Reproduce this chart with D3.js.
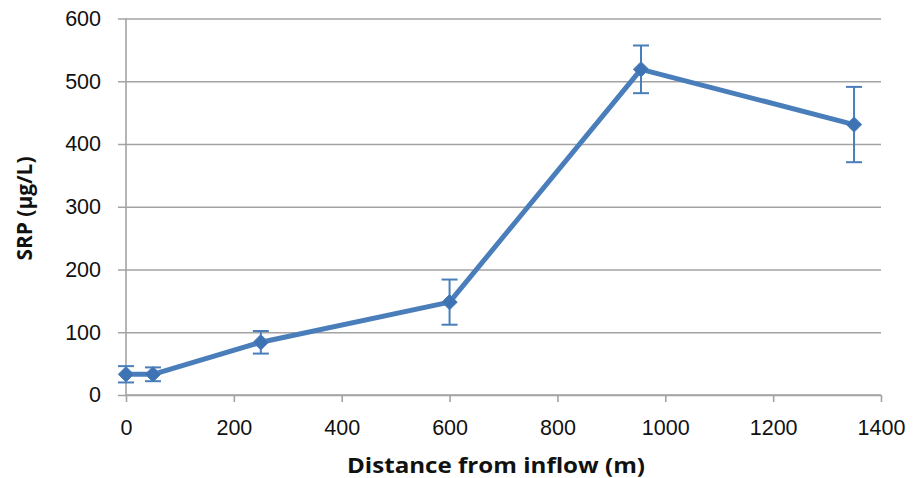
<!DOCTYPE html>
<html>
<head>
<meta charset="utf-8">
<script src="https://cdn.jsdelivr.net/npm/d3@7"></script>
<style>
  html, body { margin: 0; padding: 0; background: #fff; }
  svg { display: block; font-family: "Open Sans", Lato, sans-serif; }
</style>
</head>
<body>
<svg id="chart" width="914" height="478"></svg>
<script>
// SRP along the flow path: distance (m), mean concentration (µg/L) and error
const distances = [0, 50, 250, 600, 955, 1350];
const srpMean   = [33, 33, 84, 148, 519, 431];
const srpError  = [13, 11, 18, 36, 38, 60];
const xTicks = [0, 200, 400, 600, 800, 1000, 1200, 1400];
const yTicks = [0, 100, 200, 300, 400, 500, 600];

const data = distances.map((d, i) => ({ x: d, y: srpMean[i], e: srpError[i] }));

const svg = d3.select("#chart");
const margin = { left: 126, right: 33, top: 18.5, bottom: 83 };
const W = 914, H = 478;

const x = d3.scaleLinear().domain([0, 1400]).range([margin.left, W - margin.right]);
const y = d3.scaleLinear().domain([0, 600]).range([H - margin.bottom, margin.top]);

const gridColor = "#a3a3a3";
const blue = "#4a7ebb";
const fmt = d3.format("d");

// horizontal gridlines with left tick marks
const yAxis = d3.axisLeft(y).tickValues(yTicks).tickFormat(fmt)
  .tickSize(-(x.range()[1] - x.range()[0]));
const gy = svg.append("g").attr("transform", `translate(${margin.left},0)`).call(yAxis);
gy.select(".domain").remove();
gy.selectAll(".tick line").attr("stroke", gridColor).attr("stroke-width", 1.6).attr("x1", -8);
gy.selectAll(".tick text").attr("font-size", 21.5).attr("fill", "#111").attr("x", -25);

// vertical axis line
svg.append("line")
  .attr("x1", margin.left).attr("x2", margin.left)
  .attr("y1", y(600)).attr("y2", y(0))
  .attr("stroke", gridColor).attr("stroke-width", 1.6);

// x axis
const xAxis = d3.axisBottom(x).tickValues(xTicks).tickFormat(fmt).tickSize(7).tickPadding(18);
const gx = svg.append("g").attr("transform", `translate(0,${y(0)})`).call(xAxis);
gx.select(".domain").attr("stroke", gridColor).attr("stroke-width", 1.6).attr("d", `M${x(0)},0H${x(1400)}`);
gx.selectAll(".tick line").attr("stroke", gridColor).attr("stroke-width", 1.6);
gx.selectAll(".tick text").attr("font-size", 21.5).attr("fill", "#111");

// error bars
const eb = svg.append("g").attr("stroke", blue).attr("stroke-width", 2).attr("fill", "none");
data.forEach(d => {
  const cx = x(d.x), t = y(d.y + d.e), b = y(d.y - d.e);
  eb.append("line").attr("x1", cx).attr("x2", cx).attr("y1", t).attr("y2", b);
  eb.append("line").attr("x1", cx - 8).attr("x2", cx + 8).attr("y1", t).attr("y2", t);
  eb.append("line").attr("x1", cx - 8).attr("x2", cx + 8).attr("y1", b).attr("y2", b);
});

// series line
svg.append("path")
  .datum(data)
  .attr("fill", "none")
  .attr("stroke", blue)
  .attr("stroke-width", 5)
  .attr("stroke-linejoin", "round")
  .attr("d", d3.line().x(d => x(d.x)).y(d => y(d.y)));

// diamond markers
svg.append("g").selectAll("path")
  .data(data)
  .join("path")
  .attr("transform", d => `translate(${x(d.x)},${y(d.y)})`)
  .attr("d", d3.symbol().type(d3.symbolDiamond2).size(150))
  .attr("fill", "#3f74b4")
  .attr("stroke", blue)
  .attr("stroke-width", 1);

// axis titles
svg.append("text")
  .attr("x", 496)
  .attr("y", 473)
  .attr("text-anchor", "middle")
  .attr("font-size", 22)
  .attr("font-weight", "bold")
  .attr("fill", "#111")
  .attr("textLength", 298)
  .attr("lengthAdjust", "spacingAndGlyphs")
  .text("Distance from inflow (m)");

svg.append("text")
  .attr("transform", `translate(32,208.5) rotate(-90)`)
  .attr("text-anchor", "middle")
  .attr("font-size", 21)
  .attr("font-weight", "bold")
  .attr("fill", "#111")
  .attr("textLength", 104)
  .attr("lengthAdjust", "spacingAndGlyphs")
  .text("SRP (µg/L)");
</script>
</body>
</html>
